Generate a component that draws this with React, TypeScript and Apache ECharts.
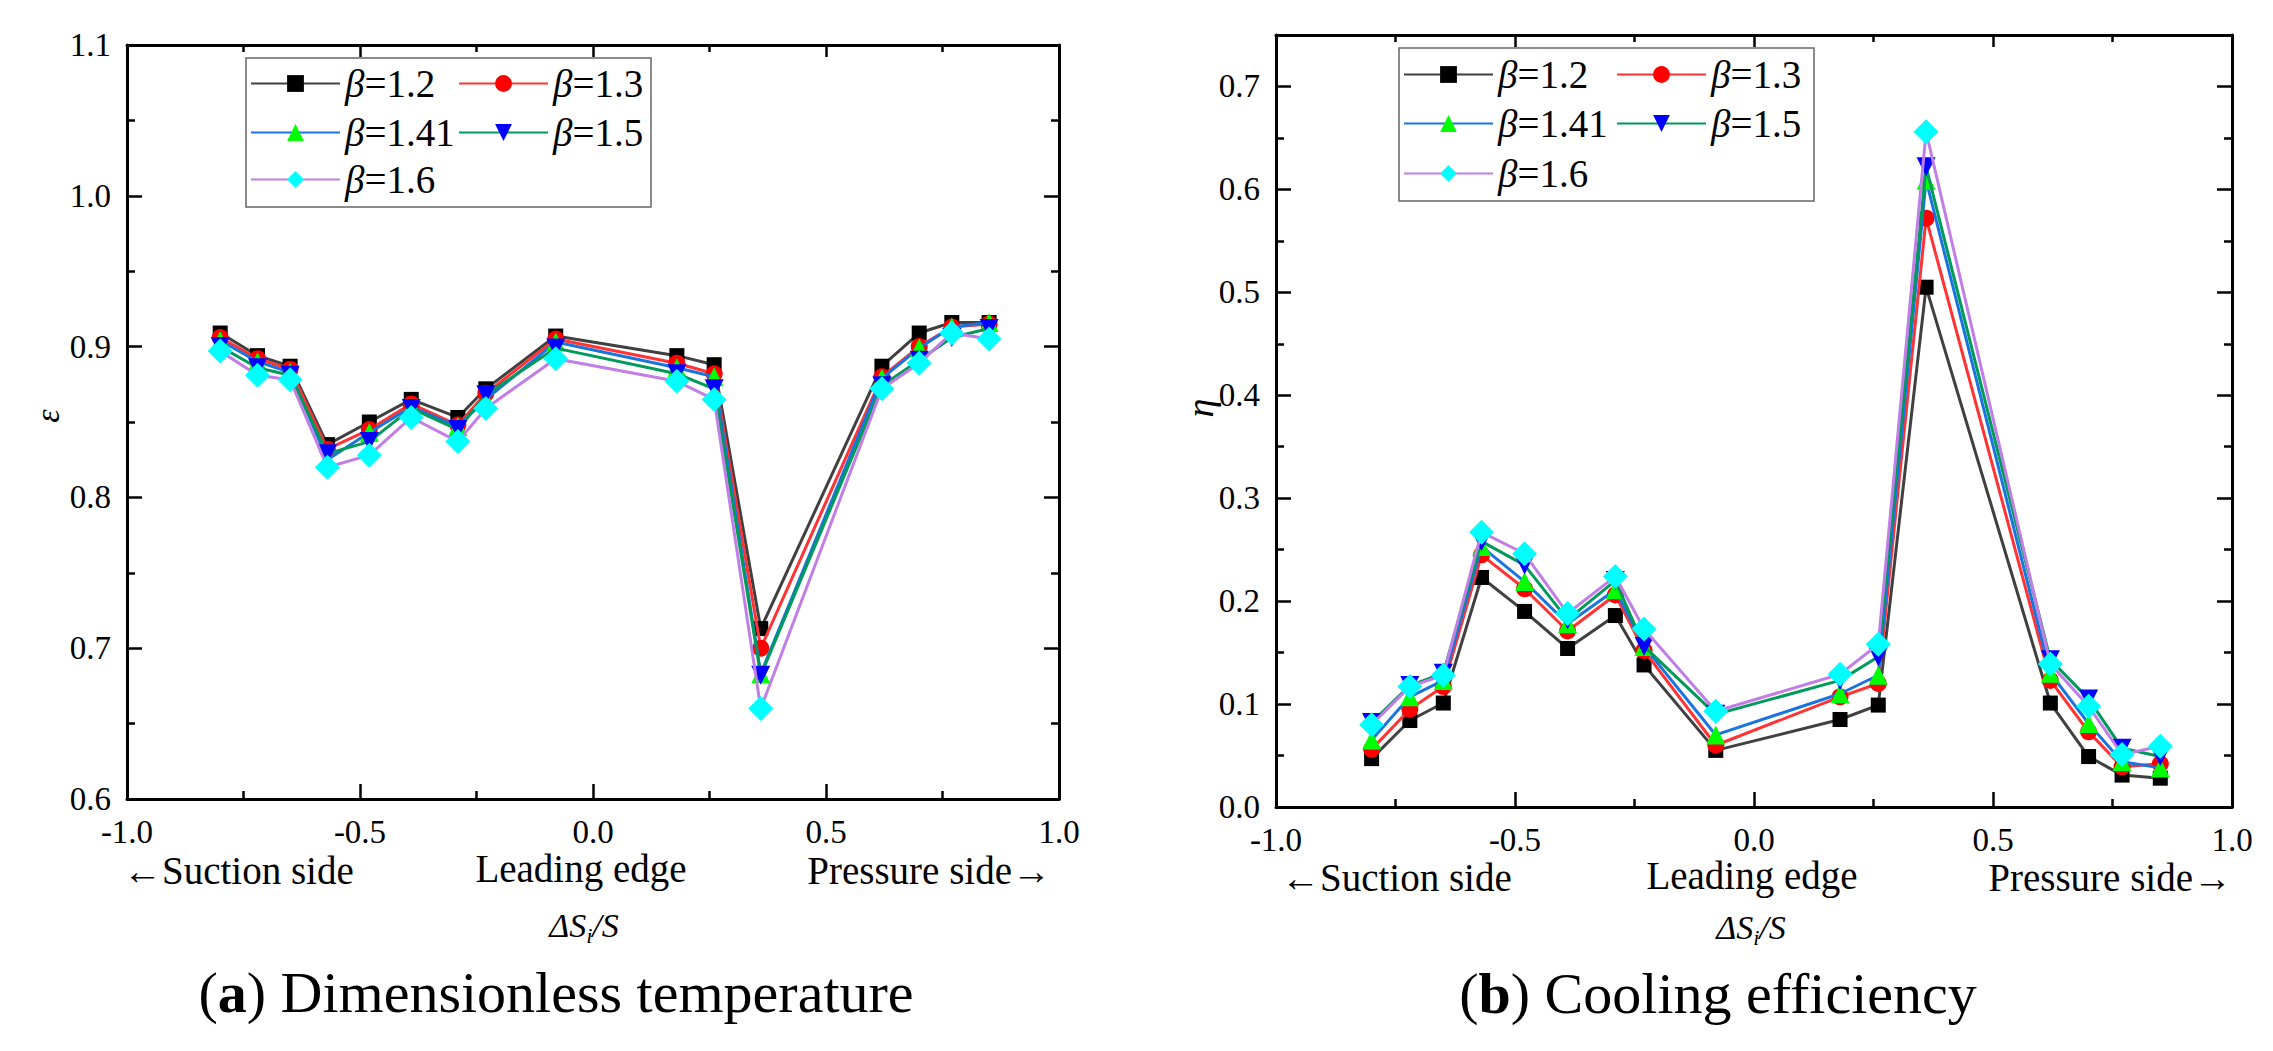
import React, { useEffect, useRef } from "react";
import * as echarts from "echarts";

// ---------- data ----------
const xs = [-0.8, -0.72, -0.65, -0.57, -0.48, -0.39, -0.29, -0.23, -0.08, 0.18, 0.26, 0.36, 0.62, 0.7, 0.77, 0.85];

const seriesNames = ["β=1.2", "β=1.3", "β=1.41", "β=1.5", "β=1.6"];

const eps12 = [0.909, 0.894, 0.887, 0.835, 0.85, 0.865, 0.853, 0.872, 0.907, 0.894, 0.888, 0.713, 0.887, 0.909, 0.916, 0.916];
const eps13 = [0.906, 0.892, 0.885, 0.832, 0.845, 0.862, 0.848, 0.869, 0.905, 0.889, 0.882, 0.7, 0.88, 0.9, 0.913, 0.915];
const eps141 = [0.904, 0.89, 0.883, 0.825, 0.843, 0.86, 0.847, 0.865, 0.903, 0.886, 0.88, 0.683, 0.879, 0.899, 0.913, 0.916];
const eps15 = [0.9, 0.886, 0.881, 0.829, 0.837, 0.859, 0.845, 0.868, 0.899, 0.882, 0.872, 0.682, 0.874, 0.891, 0.906, 0.912];
const eps16 = [0.897, 0.881, 0.878, 0.82, 0.828, 0.853, 0.837, 0.859, 0.892, 0.877, 0.865, 0.66, 0.872, 0.889, 0.909, 0.905];

const eta12 = [0.047, 0.084, 0.101, 0.223, 0.19, 0.154, 0.186, 0.138, 0.055, 0.085, 0.099, 0.505, 0.101, 0.049, 0.031, 0.028];
const eta13 = [0.056, 0.095, 0.117, 0.245, 0.212, 0.171, 0.206, 0.152, 0.06, 0.107, 0.12, 0.572, 0.123, 0.073, 0.039, 0.042];
const eta141 = [0.065, 0.107, 0.123, 0.253, 0.219, 0.178, 0.211, 0.156, 0.07, 0.11, 0.128, 0.609, 0.13, 0.081, 0.044, 0.038];
const eta15 = [0.082, 0.118, 0.13, 0.258, 0.235, 0.182, 0.22, 0.156, 0.09, 0.123, 0.146, 0.622, 0.143, 0.105, 0.057, 0.049];
const eta16 = [0.08, 0.117, 0.128, 0.267, 0.246, 0.188, 0.224, 0.173, 0.093, 0.129, 0.158, 0.656, 0.139, 0.098, 0.051, 0.059];

const epsData = [eps12, eps13, eps141, eps15, eps16];
const etaData = [eta12, eta13, eta141, eta15, eta16];

const etaMajor = [0, 0.1, 0.2, 0.3, 0.4, 0.5, 0.6, 0.7];
const etaMinor = [0.05, 0.15, 0.25, 0.35, 0.45, 0.55, 0.65];

// ---------- styles ----------
const FONT = '"Liberation Serif", "Times New Roman", serif';
const DOWN_TRI = "path://M0,0L20,0L10,17Z";
const seriesStyles = [
  { line: "#404040", marker: "#000000", symbol: "rect", size: 15 },
  { line: "#ff3333", marker: "#ff0000", symbol: "circle", size: 17 },
  { line: "#1a74e0", marker: "#00ff00", symbol: "triangle", size: 19 },
  { line: "#009a5a", marker: "#0000ff", symbol: DOWN_TRI, size: 19 },
  { line: "#c07ee6", marker: "#00ffff", symbol: "diamond", size: 25 },
];

const tickStyle = { color: "#000", width: 2.5 };
const axisLineStyle = { show: true, onZero: false, lineStyle: { color: "#000", width: 3 } };
const labelBase = { margin: 16, color: "#000", fontSize: 33, fontFamily: FONT };

function xAxisPair(grid: number) {
  return [
    {
      type: "value",
      gridIndex: grid,
      position: "bottom",
      min: -1,
      max: 1,
      interval: 0.5,
      axisLine: axisLineStyle,
      axisTick: { show: true, inside: true, length: 15, lineStyle: tickStyle },
      minorTick: { show: true, splitNumber: 2, length: 8, lineStyle: tickStyle },
      axisLabel: { show: true, ...labelBase, formatter: (v: number) => v.toFixed(1) },
      splitLine: { show: false },
      minorSplitLine: { show: false },
    },
    {
      type: "value",
      gridIndex: grid,
      position: "top",
      min: -1,
      max: 1,
      interval: 0.5,
      axisLine: axisLineStyle,
      axisTick: { show: true, inside: true, length: 12, lineStyle: tickStyle },
      minorTick: { show: true, splitNumber: 2, length: 7, lineStyle: tickStyle },
      axisLabel: { show: false },
      splitLine: { show: false },
    },
  ];
}

export default function App() {
  const ref = useRef<HTMLDivElement>(null);

  useEffect(() => {
    if (!ref.current) return;
    const chart = echarts.init(ref.current, undefined, { renderer: "svg" });

    const yAxes: any[] = [
      {
        type: "value",
        gridIndex: 0,
        position: "left",
        min: 0.6,
        max: 1.1,
        interval: 0.1,
        axisLine: axisLineStyle,
        axisTick: { show: true, inside: true, length: 15, lineStyle: tickStyle },
        minorTick: { show: true, splitNumber: 2, length: 8, lineStyle: tickStyle },
        axisLabel: { ...labelBase, formatter: (v: number) => v.toFixed(1) },
        splitLine: { show: false },
      },
      {
        type: "value",
        gridIndex: 0,
        position: "right",
        min: 0.6,
        max: 1.1,
        interval: 0.1,
        axisLine: axisLineStyle,
        axisTick: { show: true, inside: true, length: 15, lineStyle: tickStyle },
        minorTick: { show: true, splitNumber: 2, length: 8, lineStyle: tickStyle },
        axisLabel: { show: false },
        splitLine: { show: false },
      },
      {
        type: "value",
        gridIndex: 1,
        position: "left",
        min: 0,
        max: 0.75,
        interval: 0.1,
        axisLine: axisLineStyle,
        axisTick: { show: true, inside: true, length: 15, lineStyle: tickStyle, customValues: etaMajor },
        axisLabel: { ...labelBase, customValues: etaMajor, formatter: (v: number) => v.toFixed(1) },
        splitLine: { show: false },
      },
      {
        type: "value",
        gridIndex: 1,
        position: "left",
        min: 0,
        max: 0.75,
        interval: 0.1,
        axisLine: { show: false, onZero: false },
        axisTick: { show: true, inside: true, length: 8, lineStyle: tickStyle, customValues: etaMinor },
        axisLabel: { show: false },
        splitLine: { show: false },
      },
      {
        type: "value",
        gridIndex: 1,
        position: "right",
        min: 0,
        max: 0.75,
        interval: 0.1,
        axisLine: axisLineStyle,
        axisTick: { show: true, inside: true, length: 15, lineStyle: tickStyle, customValues: etaMajor },
        axisLabel: { show: false },
        splitLine: { show: false },
      },
      {
        type: "value",
        gridIndex: 1,
        position: "right",
        min: 0,
        max: 0.75,
        interval: 0.1,
        axisLine: { show: false, onZero: false },
        axisTick: { show: true, inside: true, length: 8, lineStyle: tickStyle, customValues: etaMinor },
        axisLabel: { show: false },
        splitLine: { show: false },
      },
    ];

    const makeSeries = (data: number[][], xIdx: number, yIdx: number) =>
      data.map((vals, i) => ({
        name: seriesNames[i],
        type: "line",
        xAxisIndex: xIdx,
        yAxisIndex: yIdx,
        data: vals.map((v, j) => [xs[j], v]),
        symbol: seriesStyles[i].symbol,
        symbolSize: seriesStyles[i].size,
        showSymbol: true,
        lineStyle: { color: seriesStyles[i].line, width: 3 },
        itemStyle: { color: seriesStyles[i].marker },
        z: 2 + i,
        silent: true,
      }));

    const legendRich = {
      i: { fontStyle: "italic", fontSize: 39, fontFamily: FONT, color: "#000" },
      n: { fontSize: 39, fontFamily: FONT, color: "#000" },
    };
    const mkLegend = (name: string, left: number, rowCenter: number) => ({
      show: true,
      data: [name],
      left,
      top: rowCenter - 20,
      padding: 0,
      itemWidth: 89,
      itemHeight: 21,
      selectedMode: false,
      textStyle: { fontSize: 39, fontFamily: FONT, color: "#000", rich: legendRich },
      formatter: (n: string) => `{i|β}{n|${n.slice(1)}}`,
    });

    const legends = [
      mkLegend(seriesNames[0], 250, 84),
      mkLegend(seriesNames[1], 458, 84),
      mkLegend(seriesNames[2], 250, 133),
      mkLegend(seriesNames[3], 458, 133),
      mkLegend(seriesNames[4], 250, 180),
      mkLegend(seriesNames[0], 1403, 75),
      mkLegend(seriesNames[1], 1616, 75),
      mkLegend(seriesNames[2], 1403, 124),
      mkLegend(seriesNames[3], 1616, 124),
      mkLegend(seriesNames[4], 1403, 174),
    ];

    const txt = (text: string, x: number, y: number, align: string, size = 39) => ({
      type: "text",
      x,
      y,
      silent: true,
      style: {
        text,
        fontSize: size,
        fontFamily: FONT,
        fill: "#000",
        align,
        verticalAlign: "middle",
      },
    });

    const subRich = {
      a: { fontSize: 34, fontStyle: "italic", fontFamily: FONT, fill: "#000", color: "#000" },
      b: { fontSize: 22, fontStyle: "italic", fontFamily: FONT, fill: "#000", color: "#000", padding: [20, 0, 0, 0] },
    };
    const dsLabel = (x: number, y: number) => ({
      type: "text",
      x,
      y,
      silent: true,
      style: {
        text: "{a|ΔS}{b|i}{a|/S}",
        rich: subRich,
        align: "center",
        verticalAlign: "middle",
      },
    });

    const capRich = {
      n: { fontSize: 58, fontFamily: FONT, fill: "#000", color: "#000" },
      b: { fontSize: 58, fontFamily: FONT, fontWeight: "bold", fill: "#000", color: "#000" },
    };
    const caption = (letter: string, rest: string, x: number, y: number) => ({
      type: "text",
      x,
      y,
      silent: true,
      style: {
        text: `{n|(}{b|${letter}}{n|) ${rest}}`,
        rich: capRich,
        align: "center",
        verticalAlign: "middle",
      },
    });

    const yName = (text: string, x: number, y: number, size: number) => ({
      type: "text",
      x,
      y,
      rotation: Math.PI / 2,
      silent: true,
      style: {
        text,
        fontSize: size,
        fontStyle: "italic",
        fontFamily: FONT,
        fill: "#000",
        align: "center",
        verticalAlign: "middle",
      },
    });

    const option: any = {
      animation: false,
      backgroundColor: "#ffffff",
      grid: [
        { left: 127, top: 45, width: 932, height: 754, containLabel: false },
        { left: 1276, top: 35, width: 956, height: 772, containLabel: false },
      ],
      xAxis: [...xAxisPair(0), ...xAxisPair(1)],
      yAxis: yAxes,
      legend: legends,
      series: [...makeSeries(epsData, 0, 0), ...makeSeries(etaData, 2, 2)],
      graphic: [
        {
          type: "rect",
          shape: { x: 246, y: 58, width: 405, height: 149 },
          style: { fill: "rgba(0,0,0,0)", stroke: "#666", lineWidth: 1.5 },
          silent: true,
          z: 1,
        },
        {
          type: "rect",
          shape: { x: 1399, y: 48, width: 415, height: 153 },
          style: { fill: "rgba(0,0,0,0)", stroke: "#666", lineWidth: 1.5 },
          silent: true,
          z: 1,
        },
        txt("←Suction side", 123, 870, "left"),
        txt("Leading edge", 581, 868, "center"),
        txt("Pressure side→", 1051, 870, "right"),
        txt("←Suction side", 1281, 877, "left"),
        txt("Leading edge", 1752, 875, "center"),
        txt("Pressure side→", 2232, 877, "right"),
        dsLabel(584, 925),
        dsLabel(1751, 927),
        caption("a", "Dimensionless temperature", 556, 992),
        caption("b", "Cooling efficiency", 1718, 993),
        yName("ε", 47, 416, 34),
        yName("η", 1200, 408, 38),
      ],
    };

    chart.setOption(option);
    return () => chart.dispose();
  }, []);

  return (
    <div
      ref={ref}
      style={{ position: "fixed", left: 0, top: 0, width: 2273, height: 1051, background: "#fff" }}
    />
  );
}
